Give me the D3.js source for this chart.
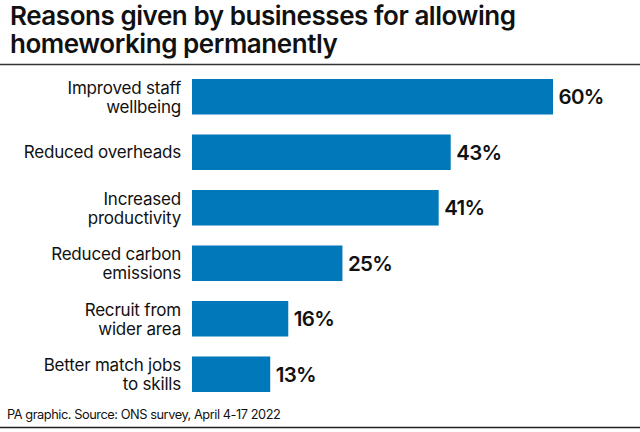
<!DOCTYPE html>
<html>
<head>
<meta charset="utf-8">
<script src="https://cdn.jsdelivr.net/npm/d3@7"></script>
<style>
  html, body { margin: 0; padding: 0; background: #fff; }
  svg { display: block; }
  text { font-family: Inter, 'Open Sans', sans-serif; fill: #111; }
</style>
</head>
<body>
<svg id="chart" width="640" height="432"></svg>
<script>
const titleLines = ['Reasons given by businesses for allowing', 'homeworking permanently']
const categories = [
  ['Improved staff', 'wellbeing'],
  ['Reduced overheads'],
  ['Increased', 'productivity'],
  ['Reduced carbon', 'emissions'],
  ['Recruit from', 'wider area'],
  ['Better match jobs', 'to skills'],
]
const values = [60, 43, 41, 25, 16, 13]
const source = 'PA graphic. Source: ONS survey, April 4-17 2022'

const svg = d3.select('#chart')
const x = d3.scaleLinear().domain([0, 60]).range([192, 553])
const y = d3.scaleBand().domain(d3.range(values.length)).range([69, 402]).paddingInner(0.36).paddingOuter(0.18)

svg.append('g')
  .selectAll('text')
  .data(titleLines)
  .join('text')
  .attr('x', 10)
  .attr('y', (d, i) => 25 + i * 27.5)
  .attr('font-size', 26)
  .attr('font-weight', 600)
  .attr('letter-spacing', -0.45)
  .text((d) => d)

svg.append('line').attr('x1', 0).attr('x2', 640).attr('y1', 64.5).attr('y2', 64.5).attr('stroke', '#333').attr('stroke-width', 1.4)
svg.append('line').attr('x1', 0).attr('x2', 640).attr('y1', 427.5).attr('y2', 427.5).attr('stroke', '#222').attr('stroke-width', 1.4)

svg.append('g')
  .selectAll('rect')
  .data(values)
  .join('rect')
  .attr('x', x(0))
  .attr('y', (d, i) => y(i))
  .attr('width', (d) => x(d) - x(0))
  .attr('height', y.bandwidth())
  .attr('fill', '#0078b9')

svg.append('g')
  .selectAll('text')
  .data(values)
  .join('text')
  .attr('x', (d) => x(d) + 5.5)
  .attr('y', (d, i) => y(i) + y.bandwidth() / 2 + 7.5)
  .attr('font-size', 20.5)
  .attr('font-weight', 600)
  .attr('letter-spacing', -0.7)
  .text((d) => d + '%')

const labels = svg.append('g')
  .selectAll('text')
  .data(categories)
  .join('text')
  .attr('text-anchor', 'end')
  .attr('font-size', 17)
  .attr('letter-spacing', -0.2)
labels.each(function (lines, i) {
  const cy = y(i) + y.bandwidth() / 2
  const start = cy + 5.5 - (lines.length - 1) * 8.5
  d3.select(this)
    .selectAll('tspan')
    .data(lines)
    .join('tspan')
    .attr('x', 181)
    .attr('y', (d, j) => start + j * 19)
    .text((d) => d)
})

svg.append('text')
  .attr('x', 7)
  .attr('y', 419)
  .attr('font-size', 12.8)
  .attr('letter-spacing', -0.45)
  .text(source)
</script>
</body>
</html>
